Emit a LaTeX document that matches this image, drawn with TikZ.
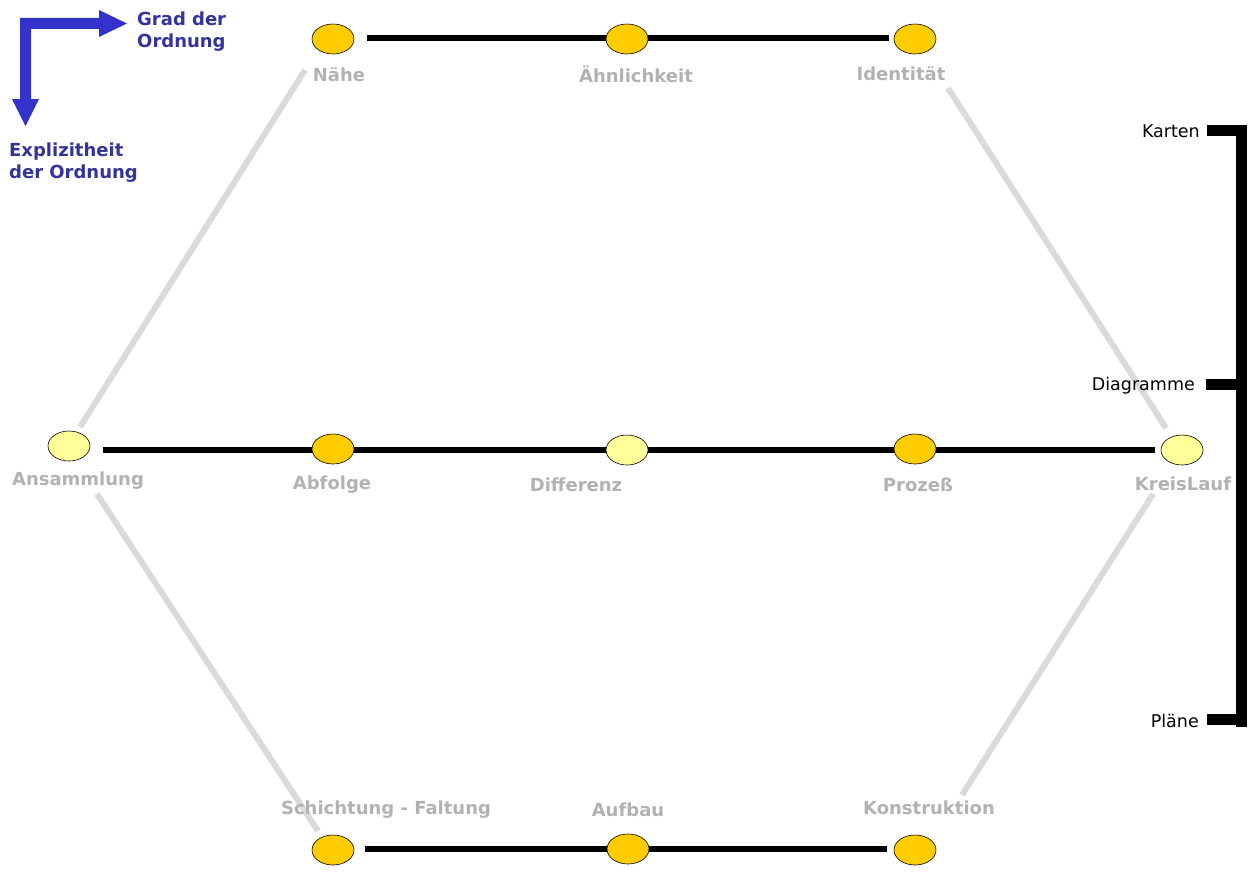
\documentclass[tikz,border=0pt]{standalone}
\usepackage{fontspec}
\setmainfont{DejaVu Sans}
\usetikzlibrary{shapes.geometric}
\definecolor{dkyel}{HTML}{FFCC00}
\definecolor{ltyel}{HTML}{FFFF99}
\definecolor{lblgray}{HTML}{B2B2B2}
\definecolor{lngray}{HTML}{DADADA}
\definecolor{arrblue}{HTML}{3333CC}
\definecolor{txtblue}{HTML}{333399}
\tikzset{
  dot/.style={ellipse, draw=black, line width=0.6pt, minimum width=42pt, minimum height=30pt, inner sep=0pt},
  dk/.style={dot, fill=dkyel},
  lt/.style={dot, fill=ltyel},
  lbl/.style={inner sep=0pt, yshift=-2pt, text=lblgray, font=\bfseries\fontsize{18}{20}\selectfont},
  blk/.style={line width=6pt, black},
  gry/.style={line width=6pt, lngray},
  bluetxt/.style={inner sep=0pt, anchor=west, align=left, text=txtblue, font=\bfseries\fontsize{18}{22}\selectfont},
  side/.style={inner sep=0pt, anchor=east, font=\fontsize{17.5}{20}\selectfont},
  brk/.style={line width=11pt, black}
}
\begin{document}
\begin{tikzpicture}[x=1pt,y=-1pt]
\useasboundingbox (0,0) rectangle (1260,891);
% gray diagonals
\coordinate (g1a) at (80,427); \coordinate (g1b) at (305,70);
\coordinate (g2a) at (948,88); \coordinate (g2b) at (1166,428);
\coordinate (g3a) at (97,494); \coordinate (g3b) at (318,831);
\coordinate (g4a) at (1153,494); \coordinate (g4b) at (962,795);
\draw[gry] (g1a) -- (g1b);
\draw[gry] (g2a) -- (g2b);
\draw[gry] (g3a) -- (g3b);
\draw[gry] (g4a) -- (g4b);
% labels
\node[lbl] (lnahe) at (339,73) {Nähe};
\node[lbl] (lahn) at (636,72) {Ähnlichkeit};
\node[lbl] (lid) at (901,72) {Identität};
\node[lbl] (lans) at (78,479) {Ansammlung};
\node[lbl] (labf) at (332,483) {Abfolge};
\node[lbl] (ldif) at (576,483) {Differenz};
\node[lbl] (lpro) at (918,483) {Prozeß};
\node[lbl] (lkr) at (1183,482) {KreisLauf};
\node[lbl] (lsch) at (386,808) {Schichtung - Faltung};
\node[lbl] (lauf) at (628,808) {Aufbau};
\node[lbl] (lkon) at (929,806) {Konstruktion};
% black lines (behind ellipses)
\coordinate (t1) at (367,38); \coordinate (t2) at (889,38);
\coordinate (m1) at (103,450); \coordinate (m2) at (1155,450);
\coordinate (b1) at (365,849); \coordinate (b2) at (887,849);
\draw[blk] (t1) -- (t2);
\draw[blk] (m1) -- (m2);
\draw[blk] (b1) -- (b2);
% ellipses
\node[dk] (nahe) at (333,39) {};
\node[dk] (ahn) at (627,39) {};
\node[dk] (ident) at (915,39) {};
\node[lt] (ans) at (69,446) {};
\node[dk] (abf) at (333,449) {};
\node[lt] (dif) at (627,450) {};
\node[dk] (pro) at (915,449) {};
\node[lt] (kreis) at (1182,450) {};
\node[dk] (sch) at (333,850) {};
\node[dk] (auf) at (628,849) {};
\node[dk] (kon) at (915,850) {};
% blue L-arrow
\fill[arrblue] (20,18) -- (99,18) -- (99,10) -- (127,23.5) -- (99,37) -- (99,29) -- (31,29) -- (31,99) -- (39,99) -- (25.5,126) -- (12,99) -- (20,99) -- cycle;
\node[bluetxt] (grad) at (137,32) {Grad der\\Ordnung};
\node[bluetxt] (expl) at (9,163) {Explizitheit\\der Ordnung};
% right bracket
\coordinate (k1) at (1207,130); \coordinate (kc) at (1241.5,130);
\coordinate (d1) at (1206,384); \coordinate (dc) at (1241.5,384);
\coordinate (p1) at (1207,719); \coordinate (pc) at (1241.5,719);
\coordinate (ve) at (1241.5,727);
\draw[brk] (k1) -- ([xshift=5.5pt]kc) ;
\draw[brk] ([yshift=-5.5pt]kc) -- (ve);
\draw[brk] (d1) -- (dc);
\draw[brk] (p1) -- (pc);
\node[side] (kart) at (1200,131) {Karten};
\node[side] (diag) at (1195,386) {Diagramme};
\node[side] (plae) at (1199,721) {Pläne};
\end{tikzpicture}
\end{document}
